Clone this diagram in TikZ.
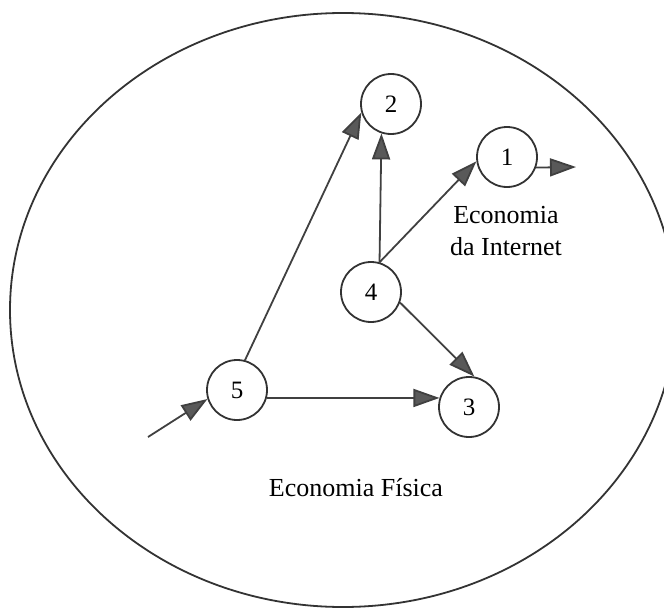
\documentclass[tikz,border=0pt]{standalone}
\usepackage{fontspec}
\setmainfont{Liberation Serif}
\usetikzlibrary{arrows.meta}

\begin{document}
\begin{tikzpicture}[x=1pt, y=-1pt, >={Triangle[length=26pt,width=18pt,fill=black!65]},
    estado/.style={circle,draw=black!80,line width=1.8pt,minimum size=60pt,inner sep=0pt,font=\fontsize{25}{30}\selectfont},
    seta/.style={->,draw=black!75,line width=1.8pt}]
    \clip (0,0) rectangle (664,610);
    \draw[black!80,line width=1.8pt] (343,310) ellipse [x radius=333, y radius=297];

    \node[estado] (1) at (507,157) {1};
    \node[estado] (2) at (391,104) {2};
    \node[estado] (3) at (469,407) {3};
    \node[estado] (4) at (371,292) {4};
    \node[estado] (5) at (237,390) {5};
    \coordinate (in) at (148,437);
    \coordinate (out) at (576,167);

    \node[font=\fontsize{26}{32}\selectfont,align=center] (internet) at (506,231) {Economia\\da Internet};
    \node[font=\fontsize{26}{32}\selectfont] (fisica) at (356,488) {Economia Física};

    \draw[seta] (in) -- (5.197);
    \draw[seta] (5.75) -- (2.196);
    \draw[seta] (5.-15) -- (3.163);
    \draw[seta] (4.74) -- (2.252);
    \draw[seta] (4.74) -- (1.188);
    \draw[seta] (4.-20) -- (3.80);
    \draw[seta] (1.-20) -- (out);
\end{tikzpicture}
\end{document}
